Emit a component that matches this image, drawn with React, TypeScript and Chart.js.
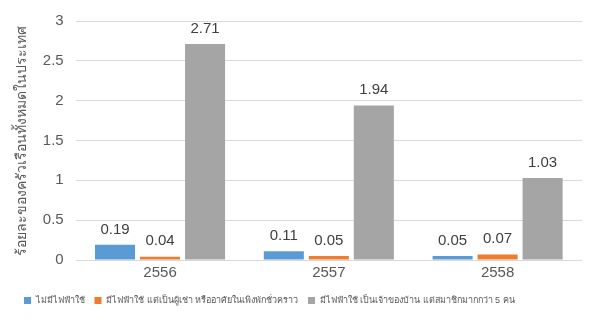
import React, { useEffect, useRef } from "react";
import { Chart, registerables } from "chart.js";

Chart.register(...registerables);

const categories = ["2556", "2557", "2558"];
const seriesNames = [
  "ไม่มีไฟฟ้าใช้",
  "มีไฟฟ้าใช้ แต่เป็นผู้เช่า หรืออาศัยในเพิงพักชั่วคราว",
  "มีไฟฟ้าใช้ เป็นเจ้าของบ้าน แต่สมาชิกมากกว่า 5 คน",
];
const noElectricity = [0.19, 0.11, 0.05];
const renterTemporary = [0.04, 0.05, 0.07];
const ownerLargeHousehold = [2.71, 1.94, 1.03];
const colors = ["#5B9BD5", "#ED7D31", "#A5A5A5"];
const yTitle = "ร้อยละของครัวเรือนทั้งหมดในประเทศ";

const valueLabels = {
  id: "valueLabels",
  afterDatasetsDraw(chart: any) {
    const ctx = chart.ctx;
    ctx.save();
    ctx.font = "15px 'Liberation Sans', Arial, sans-serif";
    ctx.fillStyle = "#404040";
    ctx.textAlign = "center";
    ctx.textBaseline = "bottom";
    chart.data.datasets.forEach((ds: any, i: number) => {
      const meta = chart.getDatasetMeta(i);
      meta.data.forEach((el: any, j: number) => {
        ctx.fillText(ds.data[j].toFixed(2), el.x, el.y - 8);
      });
    });
    ctx.restore();
  },
};

export default function App() {
  const ref = useRef<HTMLCanvasElement>(null);
  useEffect(() => {
    const chart = new Chart(ref.current!, {
      type: "bar",
      data: {
        labels: categories,
        datasets: [noElectricity, renterTemporary, ownerLargeHousehold].map((d, i) => ({
          label: seriesNames[i],
          data: d,
          backgroundColor: colors[i],
          categoryPercentage: 0.8,
          barPercentage: 0.89,
        })),
      },
      options: {
        animation: false,
        responsive: false,
        maintainAspectRatio: false,
        layout: { padding: { top: 8, right: 19, left: 14, bottom: 12 } },
        plugins: {
          legend: {
            position: "bottom",
            align: "start",
            labels: {
              boxWidth: 7,
              boxHeight: 7,
              padding: 10,
              color: "#595959",
              font: { size: 9, family: "'Liberation Sans', Arial, sans-serif" },
            },
          },
          tooltip: { enabled: false },
        },
        scales: {
          x: {
            grid: { display: false, drawTicks: false },
            border: { display: false },
            ticks: { color: "#595959", padding: 4, font: { size: 15, family: "'Liberation Sans', Arial, sans-serif" } },
          },
          y: {
            min: 0,
            max: 3,
            ticks: {
              stepSize: 0.5,
              color: "#595959",
              padding: 12,
              callback: (v: any) => String(v),
              font: { size: 15, family: "'Liberation Sans', Arial, sans-serif" },
            },
            grid: { color: "#d9d9d9", drawTicks: false },
            border: { display: false },
            title: {
              display: true,
              text: yTitle,
              color: "#595959",
              font: { size: 14, family: "'Liberation Sans', 'Noto Sans', sans-serif" },
              padding: { top: 0, bottom: 0 },
            },
          },
        },
      },
      plugins: [valueLabels],
    });
    return () => chart.destroy();
  }, []);
  return (
    <div style={{ position: "fixed", left: 0, top: 0, width: 601, height: 327, background: "#fff" }}>
      <canvas ref={ref} width={601} height={327} />
    </div>
  );
}
